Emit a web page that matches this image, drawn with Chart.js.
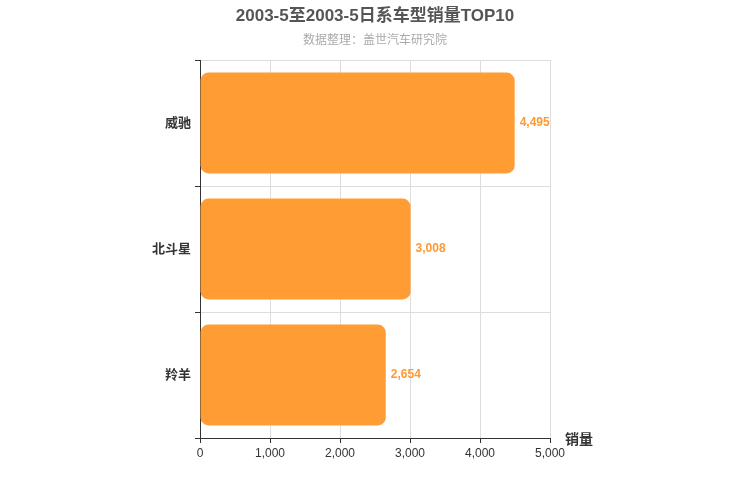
<!DOCTYPE html>
<html><head><meta charset="utf-8">
<script src="https://cdn.jsdelivr.net/npm/chart.js@4/dist/chart.umd.min.js"></script>
<style>body{margin:0;background:#fff}</style>
</head><body><canvas id="c" width="750" height="500"></canvas>
<script>
var categories = ["威驰", "北斗星", "羚羊"];
var sales = [4495, 3008, 2654];
var xTicks = [0, 1000, 2000, 3000, 4000, 5000];
var titleText = "2003-5至2003-5日系车型销量TOP10";
var subText = "数据整理：盖世汽车研究院";
var font = "Arial, 'Noto Sans CJK SC', sans-serif";

var extras = {
    id: 'extras',
    afterDraw: function (chart) {
        var ctx = chart.ctx, a = chart.chartArea;
        ctx.save();
        ctx.textAlign = 'center';
        ctx.textBaseline = 'middle';
        ctx.fillStyle = '#555';
        ctx.font = "bold 17px " + font;
        ctx.fillText(titleText, 375, 16);
        ctx.fillStyle = '#aaa';
        ctx.font = "12px " + font;
        ctx.fillText(subText, 375, 41);
        ctx.fillStyle = '#333';
        ctx.font = "bold 14px " + font;
        ctx.textAlign = 'left';
        ctx.fillText("销量", a.right + 15, a.bottom + 2);
        var meta = chart.getDatasetMeta(0);
        ctx.fillStyle = '#ff9933';
        ctx.font = "bold 12px " + font;
        meta.data.forEach(function (bar, i) {
            ctx.fillText(sales[i].toLocaleString('en-US'), bar.x + 5, bar.y);
        });
        ctx.restore();
    }
};

new Chart(document.getElementById('c'), {
    type: 'bar',
    data: {
        labels: categories,
        datasets: [{
            data: sales,
            backgroundColor: '#ff9c33',
            borderRadius: 8,
            borderSkipped: false,
            categoryPercentage: 0.8,
            barPercentage: 1
        }]
    },
    options: {
        indexAxis: 'y',
        responsive: false,
        animation: false,
        devicePixelRatio: 1,
        layout: {padding: {left: 0, right: 200, top: 60, bottom: 0}},
        plugins: {legend: {display: false}, tooltip: {enabled: false}},
        scales: {
            x: {
                min: 0, max: 5000,
                afterBuildTicks: function (s) { s.ticks = xTicks.map(function (v) { return {value: v}; }); },
                afterFit: function (s) { s.height = 62; },
                grid: {color: '#ddd', tickColor: '#333', tickLength: 5},
                border: {color: '#333'},
                ticks: {color: '#333', font: {size: 12, family: font}, padding: 3,
                    callback: function (v) { return v.toLocaleString('en-US'); }}
            },
            y: {
                afterFit: function (s) { s.width = 200; },
                grid: {offset: true, color: '#ddd', tickColor: '#333', tickLength: 5},
                border: {color: '#333'},
                ticks: {color: '#333', font: {size: 13, weight: 'bold', family: font}, padding: 4}
            }
        }
    },
    plugins: [extras]
});
</script>
</body></html>
